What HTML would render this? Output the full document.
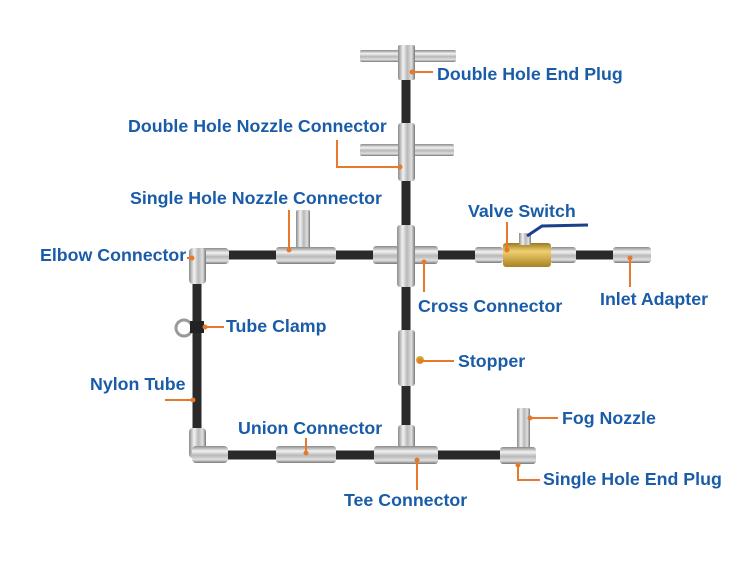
<!DOCTYPE html>
<html><head><style>
body{margin:0;background:#fff}
svg text{font-family:"Liberation Sans",sans-serif;font-weight:bold;font-size:17.8px;fill:#1a5ca8}
</style></head><body>
<svg width="750" height="563" viewBox="0 0 750 563" xmlns="http://www.w3.org/2000/svg">
<defs>
<linearGradient id="mh" x1="0" y1="0" x2="0" y2="1">
<stop offset="0" stop-color="#8a8a8a"/><stop offset="0.3" stop-color="#f2f2f2"/><stop offset="0.55" stop-color="#b8b8b8"/><stop offset="0.8" stop-color="#e0e0e0"/><stop offset="1" stop-color="#777"/>
</linearGradient>
<linearGradient id="mv" x1="0" y1="0" x2="1" y2="0">
<stop offset="0" stop-color="#8a8a8a"/><stop offset="0.3" stop-color="#f2f2f2"/><stop offset="0.55" stop-color="#b8b8b8"/><stop offset="0.8" stop-color="#e0e0e0"/><stop offset="1" stop-color="#777"/>
</linearGradient>
<linearGradient id="br" x1="0" y1="0" x2="0" y2="1">
<stop offset="0" stop-color="#9a7a20"/><stop offset="0.35" stop-color="#f0d070"/><stop offset="1" stop-color="#a88220"/>
</linearGradient>
</defs>
<g stroke="#2a2a2a" stroke-width="9" fill="none">
<line x1="197" y1="255" x2="640" y2="255"/>
<line x1="197" y1="255" x2="197" y2="455"/>
<line x1="197" y1="455" x2="530" y2="455"/>
<line x1="406" y1="60" x2="406" y2="455"/>
</g>
<rect x="360" y="50" width="96" height="12" rx="2" fill="url(#mh)"/>
<rect x="398" y="45" width="17" height="35" rx="2" fill="url(#mv)"/>
<rect x="360" y="144" width="94" height="12" rx="2" fill="url(#mh)"/>
<rect x="398" y="123" width="17" height="58" rx="3" fill="url(#mv)"/>
<rect x="373" y="246" width="65" height="18" rx="3" fill="url(#mh)"/>
<rect x="397" y="225" width="18" height="62" rx="3" fill="url(#mv)"/>
<rect x="296" y="210" width="14" height="40" rx="2" fill="url(#mv)"/>
<rect x="276" y="247" width="60" height="17" rx="3" fill="url(#mh)"/>
<rect x="193" y="248" width="36" height="16" rx="4" fill="url(#mh)"/>
<rect x="189" y="248" width="17" height="36" rx="4" fill="url(#mv)"/>
<rect x="475" y="247" width="28" height="16" rx="3" fill="url(#mh)"/>
<rect x="550" y="247" width="26" height="16" rx="3" fill="url(#mh)"/>
<rect x="503" y="243" width="48" height="24" rx="3" fill="url(#br)"/>
<rect x="519" y="233" width="12" height="12" fill="url(#mv)"/>
<path d="M527 236 L542 226 L588 225" stroke="#1c3f8a" stroke-width="3" fill="none"/>
<rect x="613" y="247" width="38" height="16" rx="3" fill="url(#mh)"/>
<circle cx="184" cy="328" r="8" fill="none" stroke="#999" stroke-width="3"/>
<rect x="190" y="321" width="14" height="12" fill="#222"/>
<rect x="398" y="330" width="17" height="56" rx="3" fill="url(#mv)"/>
<circle cx="420" cy="360" r="4" fill="#d4a82c"/>
<rect x="189" y="428" width="17" height="30" rx="4" fill="url(#mv)"/>
<rect x="192" y="446" width="36" height="17" rx="4" fill="url(#mh)"/>
<rect x="276" y="446" width="60" height="17" rx="3" fill="url(#mh)"/>
<rect x="398" y="425" width="17" height="28" rx="3" fill="url(#mv)"/>
<rect x="374" y="446" width="64" height="18" rx="3" fill="url(#mh)"/>
<rect x="517" y="408" width="13" height="42" rx="2" fill="url(#mv)"/>
<rect x="500" y="447" width="36" height="17" rx="3" fill="url(#mh)"/>
<g stroke="#e8782a" stroke-width="2" fill="none">
<polyline points="412,72 433,72"/>
<polyline points="337,140 337,167 400,167"/>
<line x1="289" y1="210" x2="289" y2="250"/>
<line x1="507" y1="222" x2="507" y2="250"/>
<line x1="187" y1="258" x2="192" y2="258"/>
<line x1="424" y1="262" x2="424" y2="292"/>
<line x1="630" y1="258" x2="630" y2="287"/>
<line x1="205" y1="327" x2="224" y2="327"/>
<line x1="420" y1="361" x2="454" y2="361"/>
<polyline points="165,400 193,400"/>
<polyline points="530,418 558,418"/>
<line x1="306" y1="438" x2="306" y2="453"/>
<line x1="417" y1="460" x2="417" y2="490"/>
<polyline points="518,465 518,480 540,480"/>
</g>
<g fill="#e8782a">
<circle cx="412" cy="72" r="2.5"/><circle cx="400" cy="167" r="2.5"/><circle cx="289" cy="250" r="2.5"/>
<circle cx="507" cy="250" r="2.5"/><circle cx="192" cy="258" r="2.5"/><circle cx="424" cy="262" r="2.5"/>
<circle cx="630" cy="258" r="2.5"/><circle cx="205" cy="327" r="2.5"/><circle cx="420" cy="361" r="2.5"/>
<circle cx="193" cy="400" r="2.5"/><circle cx="530" cy="418" r="2.5"/><circle cx="306" cy="453" r="2.5"/>
<circle cx="417" cy="460" r="2.5"/><circle cx="518" cy="465" r="2.5"/>
</g>
<text x="437" y="80">Double Hole End Plug</text>
<text x="128" y="132">Double Hole Nozzle Connector</text>
<text x="130" y="204">Single Hole Nozzle Connector</text>
<text x="468" y="217">Valve Switch</text>
<text x="40" y="261">Elbow Connector</text>
<text x="418" y="312">Cross Connector</text>
<text x="600" y="305">Inlet Adapter</text>
<text x="226" y="332">Tube Clamp</text>
<text x="458" y="367">Stopper</text>
<text x="90" y="390">Nylon Tube</text>
<text x="562" y="424">Fog Nozzle</text>
<text x="238" y="434">Union Connector</text>
<text x="543" y="485">Single Hole End Plug</text>
<text x="344" y="506">Tee Connector</text>
</svg>
</body></html>
